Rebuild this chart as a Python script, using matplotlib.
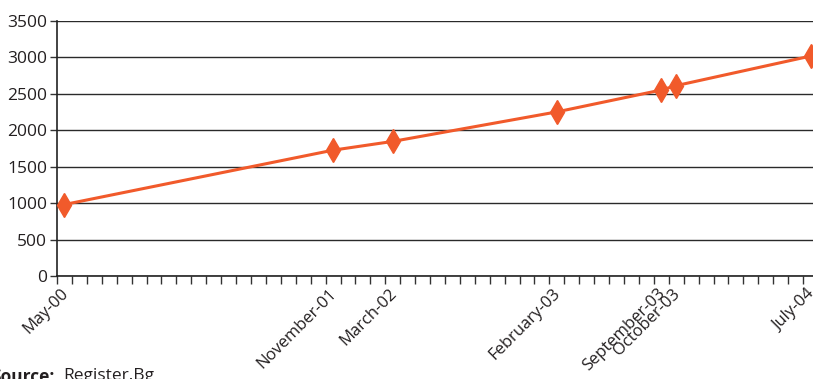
import matplotlib
matplotlib.use("Agg")
import matplotlib.pyplot as plt
from matplotlib.ticker import FixedLocator, NullFormatter

# Monthly series: registered domains under .bg
months = ["May-00", "November-01", "March-02", "February-03",
          "September-03", "October-03", "July-04"]
month_index = [0, 18, 22, 33, 40, 41, 50]   # months since May 2000
values = [980, 1725, 1845, 2250, 2550, 2610, 3015]
y_ticks = [0, 500, 1000, 1500, 2000, 2500, 3000, 3500]
n_months = 51

line_color = "#F15A2B"
text_color = "#231F20"

plt.rcParams["font.family"] = ["Open Sans", "DejaVu Sans"]

fig = plt.figure(figsize=(8.13, 3.79), dpi=100)
W, H = 813, 379
left, right, top, bottom = 57, 818, 20.7, 276
ax = fig.add_axes([left / W, 1 - bottom / H, (right - left) / W, (bottom - top) / H])

ax.plot(month_index, values, color=line_color, lw=2.2, marker="d",
        markersize=12.5, markerfacecolor=line_color, markeredgecolor=line_color,
        zorder=3, clip_on=False)

ax.set_xlim(-0.5, n_months - 0.5)
ax.set_ylim(0, 3500)
ax.set_yticks(y_ticks)
ax.set_yticklabels([str(v) for v in y_ticks])
ax.yaxis.grid(True, color="#2a2a2a", lw=1.0)
ax.set_axisbelow(True)

# month boundaries carry the tick marks; labels sit under each observation
ax.set_xticks([])
ax.xaxis.set_minor_locator(FixedLocator([i - 0.5 for i in range(n_months + 1)]))
ax.xaxis.set_minor_formatter(NullFormatter())
ax.tick_params(axis="x", which="minor", length=6, width=1.0, color="#333333",
               direction="out")
for idx, name in zip(month_index, months):
    ax.annotate(name, (idx, 0), xycoords=("data", "axes fraction"),
                xytext=(-3, -7), textcoords="offset points",
                rotation=45, ha="right", va="top", rotation_mode="anchor",
                fontsize=12, color=text_color, annotation_clip=False)

ax.tick_params(axis="y", length=5, width=1.0, color="#333333", pad=2,
               labelsize=12.5, labelcolor=text_color)

for s in ("top", "right"):
    ax.spines[s].set_visible(False)
for s in ("left", "bottom"):
    ax.spines[s].set_color("#222222")
    ax.spines[s].set_linewidth(1.2)

fig.text(-9 / W, 1 - 368 / H, "Source:", fontsize=12.5, fontweight="bold",
         color=text_color, ha="left", va="top")
fig.text(63 / W, 1 - 368 / H, "Register.Bg", fontsize=12.5,
         color=text_color, ha="left", va="top")

fig.savefig("out.png", dpi=100)
